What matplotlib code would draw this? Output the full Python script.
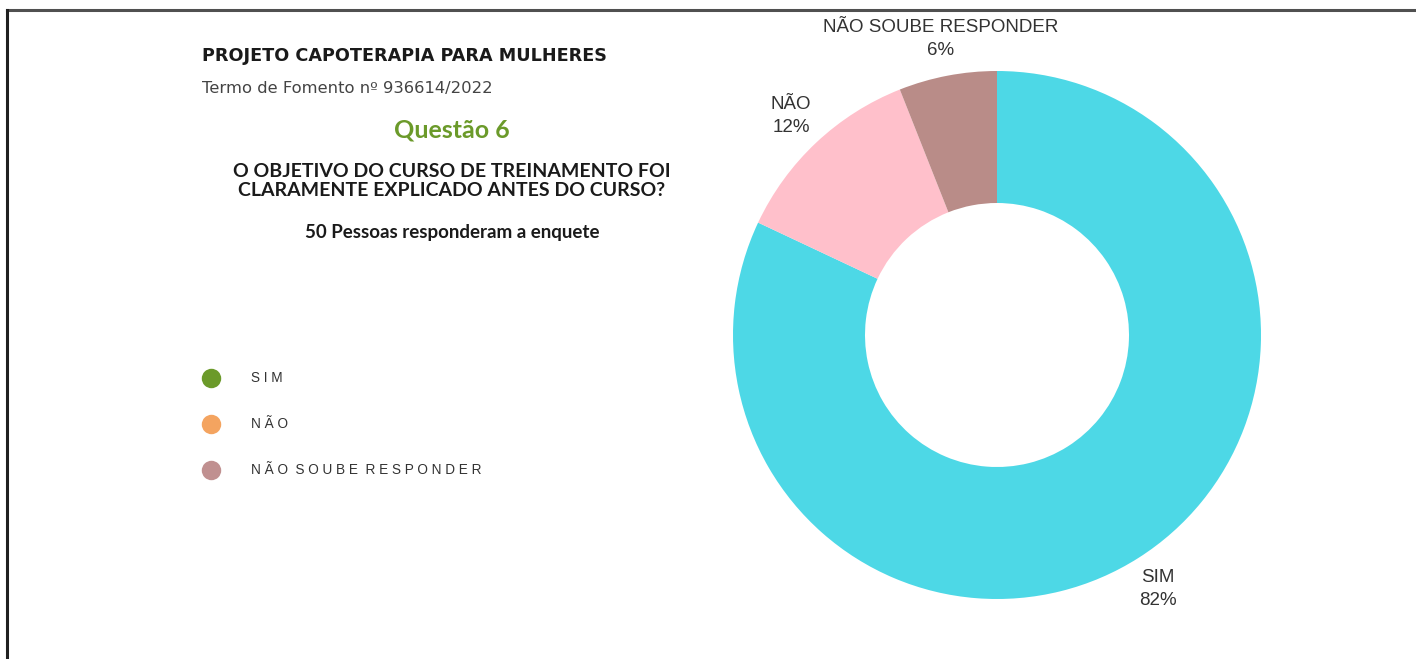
import matplotlib
matplotlib.use('Agg')
import matplotlib.pyplot as plt
from matplotlib.lines import Line2D

# survey answers, question 6
categories = ['SIM', 'NÃO', 'NÃO SOUBE RESPONDER']
percentages = [82, 12, 6]
slice_colors = ['#4DD8E6', '#FFC0CB', '#B98C88']
legend_labels = ['SIM', 'NÃO', 'NÃO SOUBE RESPONDER']
legend_colors = ['#6B9A2A', '#F4A460', '#C09090']

W, H = 1416, 659
fig = plt.figure(figsize=(W / 100, H / 100), dpi=100)
fig.patch.set_facecolor('white')

# frame lines at top and left edge
fig.add_artist(Line2D([7 / W, 1], [1 - 9.5 / H, 1 - 9.5 / H], color='#505050', lw=2.2))
fig.add_artist(Line2D([7 / W, 7 / W], [0, 1 - 9.5 / H], color='#202020', lw=2.2))

# donut
ax = fig.add_axes([733 / W, (H - 599) / H, 528 / W, 528 / H])
labels = ['{}\n{}%'.format(c, p) for c, p in zip(categories, percentages)]
wedges, texts = ax.pie(percentages, colors=slice_colors, startangle=90, counterclock=False,
                       labels=labels, labeldistance=1.14,
                       wedgeprops=dict(width=0.5, edgecolor='none'),
                       textprops=dict(fontsize=13.5, color='#333333', family='Liberation Sans',
                                      linespacing=1.45))
for t in texts:
    t.set_ha('center')
    t.set_va('center')
ax.set_xlim(-1, 1)
ax.set_ylim(-1, 1)
ax.set_aspect('equal')
ax.axis('off')

def px(x, y):
    return x / W, 1 - y / H

fig.text(*px(202, 56), 'PROJETO CAPOTERAPIA PARA MULHERES', fontsize=12.7, fontweight='bold',
         family='DejaVu Sans', color='#1a1a1a', ha='left', va='center')
fig.text(*px(202, 89), 'Termo de Fomento nº 936614/2022', fontsize=11.8, family='DejaVu Sans',
         color='#444444', ha='left', va='center')
fig.text(*px(452, 130), 'Questão 6', fontsize=18, fontweight='bold', family='Lato',
         color='#6B9A2A', ha='center', va='center')
fig.text(*px(452, 181), 'O OBJETIVO DO CURSO DE TREINAMENTO FOI\nCLARAMENTE EXPLICADO ANTES DO CURSO?',
         fontsize=14, fontweight='bold', family='Lato', color='#1a1a1a', ha='center', va='center',
         linespacing=1.08)
fig.text(*px(452, 232), '50 Pessoas responderam a enquete', fontsize=13.5, fontweight='bold',
         family='Lato', color='#1a1a1a', ha='center', va='center')

# legend on the left
leg_y = [378, 424, 470]
for lab, col, y in zip(legend_labels, legend_colors, leg_y):
    fig.add_artist(Line2D([211 / W], [1 - y / H], marker='o', markersize=14, color=col,
                          markeredgecolor='none', linestyle='none'))
    fig.text(251 / W, 1 - y / H, ' '.join(lab).replace('   ', '  '), fontsize=9.8,
             family='Liberation Sans', color='#333333', ha='left', va='center')

fig.savefig('out.png', dpi=100, facecolor='white')
